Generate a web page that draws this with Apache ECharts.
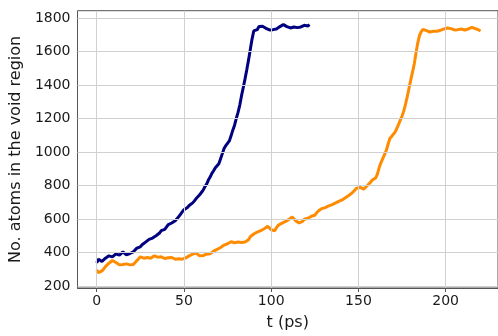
<!DOCTYPE html>
<html>
<head>
<meta charset="utf-8">
<script src="https://cdn.jsdelivr.net/npm/echarts@6/dist/echarts.min.js"></script>
<style>html,body{margin:0;padding:0;background:#fff}#c{width:498px;height:336px}</style>
</head>
<body>
<div id="c"></div>
<script>
const xTicks = [0, 50, 100, 150, 200];
const yTicks = [200, 400, 600, 800, 1000, 1200, 1400, 1600, 1800];

// time samples (ps), 1 ps apart
const blueT = [];
for (let i = 0; i <= 122; i++) blueT.push(i);
const blueV = [338,360,368,346,352,366,372,380,388,374,380,392,396,384,392,404,405,386,378,394,
  400,404,412,426,430,434,446,456,462,466,478,476,486,496,500,506,516,530,532,538,
  548,566,572,576,580,590,598,614,628,642,655,652,668,680,690,696,708,722,730,744,
  758,772,792,808,832,850,872,888,906,914,930,960,990,1020,1038,1048,1066,1096,1130,1160,
  1200,1236,1280,1336,1385,1436,1490,1548,1610,1672,1722,1724,1730,1748,1758,1750,1742,1738,1732,1728,
  1722,1730,1726,1734,1740,1748,1752,1760,1752,1748,1744,1740,1738,1746,1748,1742,1740,1746,1750,1756,
  1746,1752,1760];

const orangeT = [];
for (let i = 0; i <= 220; i++) orangeT.push(i);
const orangeV = [296,280,272,290,302,316,324,336,340,352,346,340,334,326,318,328,330,332,322,326,
  316,328,340,350,362,374,372,366,362,370,374,366,370,380,378,372,368,374,366,364,
  372,368,362,370,366,360,356,362,358,360,364,368,372,380,384,390,392,396,388,380,
  374,382,386,390,394,392,400,408,412,418,424,430,436,444,448,452,458,464,462,458,
  456,462,452,460,470,462,452,476,494,504,510,514,522,526,530,536,542,550,556,546,
  536,528,530,548,562,568,574,580,584,590,596,604,612,604,590,580,576,582,586,598,
  608,604,610,616,614,622,636,648,658,662,664,668,672,678,682,686,692,696,700,706,
  712,716,722,730,738,744,752,762,772,784,792,788,780,778,786,798,806,820,832,840,
  846,872,910,938,962,986,1010,1046,1080,1092,1102,1118,1140,1164,1190,1214,1245,1286,1330,1380,
  1430,1476,1525,1590,1650,1694,1718,1732,1730,1724,1720,1716,1714,1720,1716,1720,1722,1726,1728,1734,
  1736,1740,1742,1736,1730,1728,1726,1730,1728,1734,1732,1728,1730,1734,1738,1744,1742,1736,1732,1728,
  1722];

const pair = (t, v) => t.map((x, i) => [x, v[i]]);
const font = 'DejaVu Sans';
const gridLines = xTicks.map(v => ({xAxis: v})).concat(yTicks.map(v => ({yAxis: v})));
const chart = echarts.init(document.getElementById('c'), null, {renderer: 'canvas'});
chart.setOption({
  animation: false,
  backgroundColor: '#ffffff',
  grid: {left: 72.5, right: -8.8, top: 10.7, bottom: 37, show: true, borderColor: '#555', borderWidth: 1, backgroundColor: 'transparent'},
  xAxis: {
    type: 'value', min: -11, max: 230,
    name: 't (ps)', nameLocation: 'middle', nameGap: 27,
    nameTextStyle: {fontFamily: font, fontSize: 16, color: '#1a1a1a'},
    axisLine: {show: true, lineStyle: {color: '#555', width: 1}},
    axisTick: {show: true, length: 4, inside: false, customValues: xTicks, lineStyle: {color: '#555'}},
    axisLabel: {customValues: xTicks, fontFamily: font, fontSize: 14, color: '#1a1a1a', margin: 6, formatter: v => String(v)},
    splitLine: {show: false}
  },
  yAxis: {
    type: 'value', min: 188, max: 1843,
    name: 'No. atoms in the void region', nameLocation: 'middle', nameGap: 40,
    nameTextStyle: {fontFamily: font, fontSize: 16, color: '#1a1a1a'},
    axisLine: {show: true, lineStyle: {color: '#555', width: 1}},
    axisTick: {show: true, length: 4, inside: false, customValues: yTicks, lineStyle: {color: '#555'}},
    axisLabel: {customValues: yTicks, fontFamily: font, fontSize: 14, color: '#1a1a1a', margin: 7, formatter: v => String(v)},
    splitLine: {show: false}
  },
  series: [
    {type: 'line', data: [], z: 1, silent: true,
     markLine: {silent: true, symbol: ['none', 'none'], label: {show: false}, animation: false,
       lineStyle: {color: '#d0d0d0', width: 1, type: 'solid'}, emphasis: {disabled: true}, data: gridLines}},
    {type: 'line', z: 3, data: pair(blueT, blueV), showSymbol: false, lineStyle: {color: '#000080', width: 3}, itemStyle: {color: '#000080'}},
    {type: 'line', z: 4, data: pair(orangeT, orangeV), showSymbol: false, lineStyle: {color: '#ff8c00', width: 3}, itemStyle: {color: '#ff8c00'}}
  ]
});
</script>
</body>
</html>
